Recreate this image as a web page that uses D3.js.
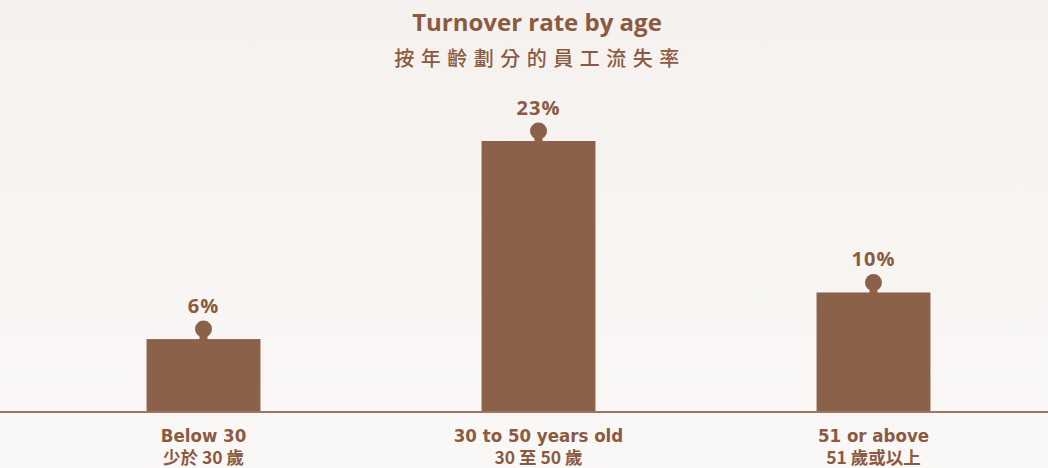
<!DOCTYPE html>
<html>
<head>
<meta charset="utf-8">
<script src="https://cdn.jsdelivr.net/npm/d3@7"></script>
<style>
  body { margin: 0; background: #f7f4f1; }
  svg { display: block; }
</style>
</head>
<body>
<div id="chart"></div>
<script>
// data
var categoriesEn = ["Below 30", "30 to 50 years old", "51 or above"];
var categoriesZh = ["少於 30 歲", "30 至 50 歲", "51 歲或以上"];
var rates = [6, 23, 10];

var w = 1048, h = 468,
    baseY = 411,
    brown = "#8b614a",
    textBrown = "#8b5a40";

var svg = d3.select("#chart").append("svg")
    .attr("width", w)
    .attr("height", h);

// soft background
var grad = svg.append("defs").append("linearGradient")
    .attr("id", "bg").attr("x1", 0).attr("y1", 0).attr("x2", 0).attr("y2", 1);
grad.append("stop").attr("offset", "0%").attr("stop-color", "#f4f1ee");
grad.append("stop").attr("offset", "100%").attr("stop-color", "#faf8f6");
svg.append("rect").attr("width", w).attr("height", h).attr("fill", "url(#bg)");

// titles
svg.append("text")
    .attr("x", 537).attr("y", 31)
    .attr("text-anchor", "middle")
    .attr("font-family", "'Open Sans', 'Noto Sans', sans-serif")
    .attr("font-weight", "bold")
    .attr("font-size", "24px")
    .attr("fill", textBrown)
    .text("Turnover rate by age");

svg.append("text")
    .attr("x", 540).attr("y", 66)
    .attr("text-anchor", "middle")
    .attr("font-family", "'Noto Sans CJK TC', sans-serif")
    .attr("font-weight", 500)
    .attr("font-size", "20px")
    .attr("letter-spacing", "6.5px")
    .attr("fill", textBrown)
    .text("按年齡劃分的員工流失率");

// scales
var x = d3.scaleBand()
    .domain(categoriesEn)
    .range([36, 1041])
    .paddingInner(0.66)
    .paddingOuter(0.33);

var y = d3.scaleLinear()
    .domain([0, 23])
    .range([baseY, 143]);

var g = svg.append("g");

// bars
g.selectAll(".bar")
    .data(rates)
    .enter().append("rect")
    .attr("class", "bar")
    .attr("x", function (d, i) { return x(categoriesEn[i]); })
    .attr("y", function (d) { return y(d) - 2; })
    .attr("width", x.bandwidth())
    .attr("height", function (d) { return baseY - y(d) + 2; })
    .attr("fill", brown);

// little knob on top of each bar
var knobs = g.selectAll(".knob")
    .data(rates)
    .enter().append("g")
    .attr("class", "knob")
    .attr("transform", function (d, i) {
        return "translate(" + (x(categoriesEn[i]) + x.bandwidth() / 2) + "," + (y(d) - 2) + ")";
    });
knobs.append("rect")
    .attr("x", -4).attr("y", -9).attr("width", 8).attr("height", 10)
    .attr("fill", brown);
knobs.append("circle")
    .attr("cx", 0).attr("cy", -10).attr("r", 8.5)
    .attr("fill", brown);

// value labels
g.selectAll(".val")
    .data(rates)
    .enter().append("text")
    .attr("class", "val")
    .attr("x", function (d, i) { return x(categoriesEn[i]) + x.bandwidth() / 2; })
    .attr("y", function (d) { return y(d) - 28; })
    .attr("text-anchor", "middle")
    .attr("font-family", "'Open Sans', 'Noto Sans', sans-serif")
    .attr("font-weight", "bold")
    .attr("font-size", "20px")
    .attr("letter-spacing", "1px")
    .attr("fill", textBrown)
    .text(function (d) { return d + "%"; });

// baseline
svg.append("line")
    .attr("x1", 0).attr("x2", w)
    .attr("y1", baseY + 1).attr("y2", baseY + 1)
    .attr("stroke", "#a07560")
    .attr("stroke-width", 2);

// category labels
var labels = g.selectAll(".cat")
    .data(categoriesEn)
    .enter().append("text")
    .attr("class", "cat")
    .attr("text-anchor", "middle")
    .attr("font-family", "'Liberation Sans Narrow', 'DejaVu Sans Condensed', sans-serif")
    .attr("font-weight", "bold")
    .attr("font-size", "18.5px")
    .attr("fill", textBrown);
labels.append("tspan")
    .attr("x", function (d) { return x(d) + x.bandwidth() / 2; })
    .attr("y", 442)
    .text(function (d) { return d; });
labels.append("tspan")
    .attr("x", function (d) { return x(d) + x.bandwidth() / 2; })
    .attr("y", 464)
    .attr("font-size", "17.5px")
    .attr("font-family", "'Liberation Sans Narrow', 'Noto Sans CJK TC', sans-serif")
    .text(function (d, i) { return categoriesZh[i]; });
</script>
</body>
</html>
